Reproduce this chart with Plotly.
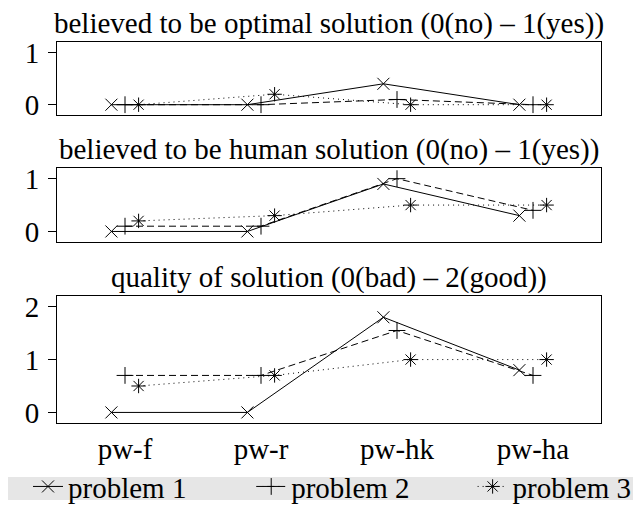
import plotly.graph_objects as go

# categories and series values
categories = ["pw-f", "pw-r", "pw-hk", "pw-ha"]
series_names = ["problem 1", "problem 2", "problem 3"]

optimal = {
    "problem 1": [0, 0, 0.4, 0],
    "problem 2": [0, 0, 0.1, 0],
    "problem 3": [0, 0.2, 0, 0],
}
human = {
    "problem 1": [0, 0, 0.9, 0.3],
    "problem 2": [0.1, 0.1, 1.0, 0.4],
    "problem 3": [0.2, 0.3, 0.5, 0.5],
}
quality = {
    "problem 1": [0, 0, 1.8, 0.8],
    "problem 2": [0.7, 0.7, 1.55, 0.7],
    "problem 3": [0.5, 0.7, 1.0, 1.0],
}

panel_titles = [
    "believed to be optimal solution (0(no) \u2013 1(yes))",
    "believed to be human solution (0(no) \u2013 1(yes))",
    "quality of solution (0(bad) \u2013 2(good))",
]

FONT = "Liberation Serif"
styles = {
    "problem 1": dict(dash="solid", symbol="x-thin", offset=-0.1, legend="legend"),
    "problem 2": dict(dash="7px,4px", symbol="cross-thin", offset=0.0, legend="legend2"),
    "problem 3": dict(dash="1px,4px", symbol="asterisk", offset=0.1, legend="legend3"),
}

fig = go.Figure()

panels = [optimal, human, quality]
domains = [[0.808, 1.0], [0.475, 0.669], [0.0, 0.333]]
yranges = [[-0.2, 1.2], [-0.2, 1.2], [-0.2, 2.2]]
ytickvals = [[0, 1], [0, 1], [0, 1, 2]]

for p, data in enumerate(panels):
    ax = "" if p == 0 else str(p + 1)
    for name in series_names:
        st = styles[name]
        fig.add_trace(
            go.Scatter(
                x=[i + st["offset"] for i in range(len(categories))],
                y=data[name],
                mode="lines+markers",
                name=name,
                legend=st["legend"],
                showlegend=(p == 0),
                line=dict(color="black", width=1, dash=st["dash"]),
                marker=dict(symbol=st["symbol"], size=12, color="black",
                            line=dict(color="black", width=1)),
                xaxis="x" + ax,
                yaxis="y" + ax,
            )
        )
    fig.update_layout(**{
        "xaxis" + ax: dict(
            domain=[0, 1], range=[-0.5, 3.5], anchor="y" + ax,
            tickvals=list(range(len(categories))), ticktext=categories,
            showticklabels=(p == 2), ticks="", showgrid=False, zeroline=False,
            showline=True, mirror=True, linecolor="black", linewidth=1,
            tickfont=dict(family=FONT, size=29),
        ),
        "yaxis" + ax: dict(
            domain=domains[p], range=yranges[p], anchor="x" + ax,
            tickvals=ytickvals[p], ticks="outside", ticklen=8, tickcolor="black",
            ticklabelstandoff=3, showgrid=False, zeroline=False,
            showline=True, mirror=True, linecolor="black", linewidth=1,
            tickfont=dict(family=FONT, size=29),
        ),
    })
    fig.add_annotation(
        text=panel_titles[p], xref="paper", yref="paper", x=0.5,
        y=domains[p][1], yshift=0, xanchor="center", yanchor="bottom",
        showarrow=False, font=dict(family=FONT, size=29, color="black"),
    )

# grey legend band across the full width
fig.add_shape(
    type="rect", xref="paper", yref="paper",
    x0=-0.105, x1=1.0735, y0=-0.202, y1=-0.1417,
    fillcolor="#e6e6e6", line=dict(width=0), layer="below",
)

legend_style = dict(
    orientation="h", xanchor="left", y=-0.1, yanchor="top",
    bgcolor="rgba(0,0,0,0)", itemwidth=30, font=dict(family=FONT, size=29),
)

fig.update_layout(
    width=633,
    height=498,
    margin=dict(l=49, r=40, t=34, b=83, autoexpand=False),
    paper_bgcolor="white",
    plot_bgcolor="white",
    font=dict(family=FONT, size=29, color="black"),
    legend=dict(x=-0.0533, **legend_style),
    legend2=dict(x=0.357, **legend_style),
    legend3=dict(x=0.764, **legend_style),
)

fig.write_html("out.html")
